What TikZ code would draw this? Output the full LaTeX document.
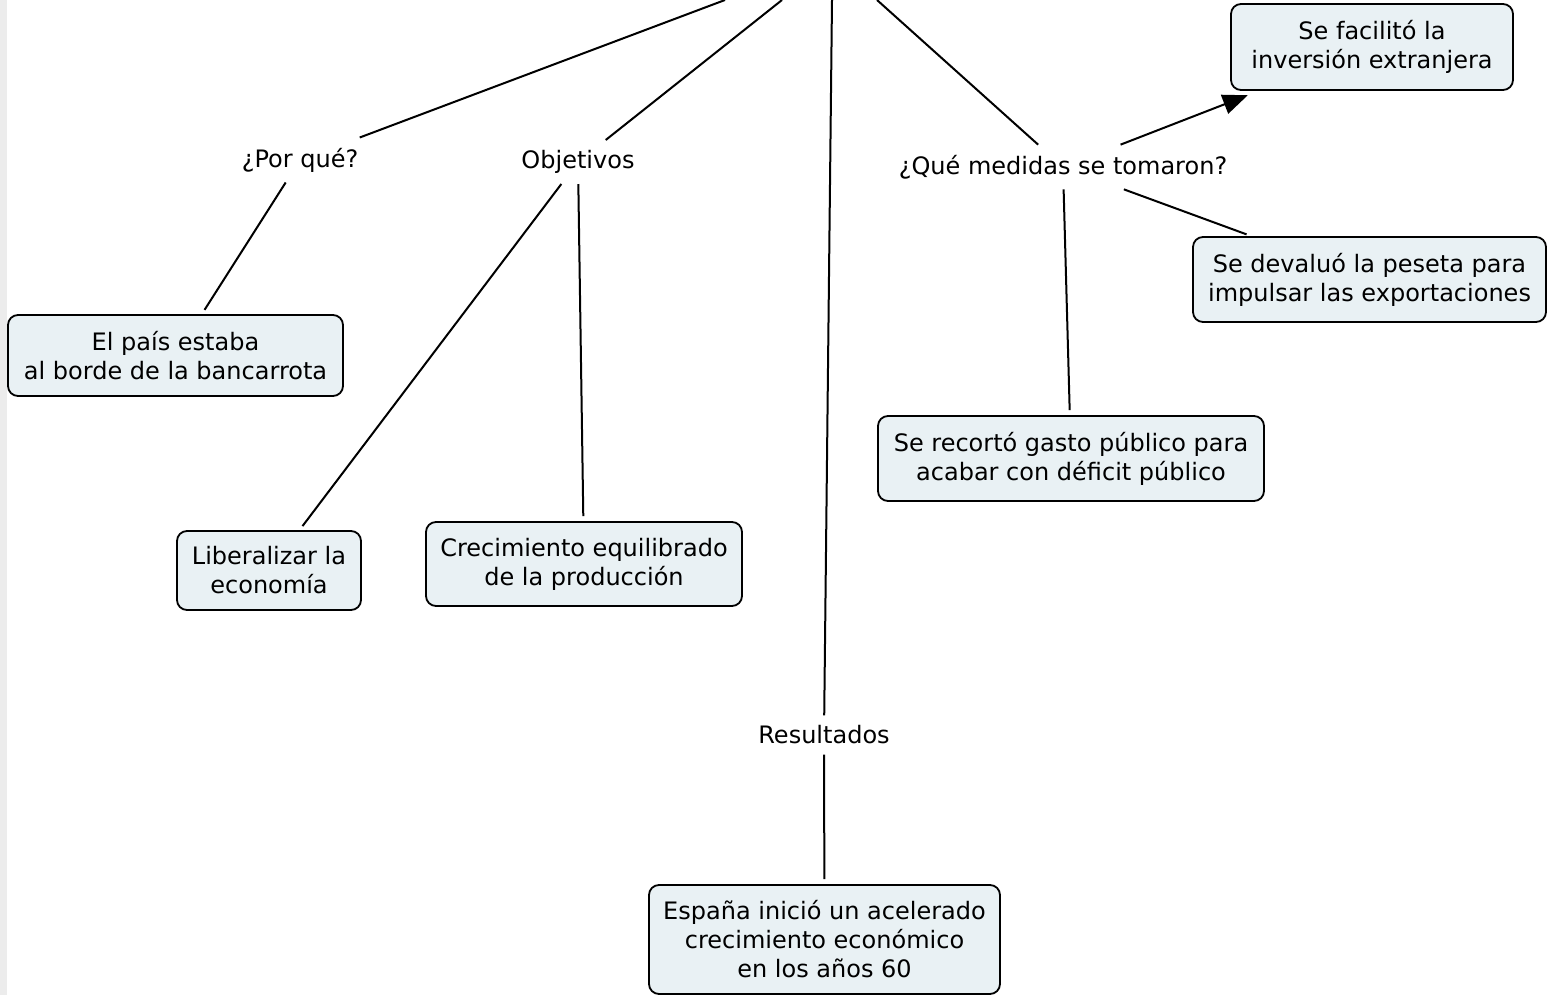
\documentclass[tikz,border=0pt]{standalone}
\usepackage{fontspec}
\setmainfont{DejaVu Sans}
\usetikzlibrary{arrows.meta}
\definecolor{boxfill}{RGB}{233,241,244}
\definecolor{stripgray}{RGB}{236,236,236}
\tikzset{
  cbox/.style={draw=black, line width=0.9pt, fill=boxfill, rounded corners=5pt, align=center, inner sep=0pt, font=\fontsize{12}{14.5}\selectfont},
  lbl/.style={align=center, inner xsep=3pt, inner ysep=5pt, font=\fontsize{12}{14.5}\selectfont},
  conn/.style={line width=1pt, draw=black},
  tobox/.style={conn, shorten >=2.5pt},
}
\begin{document}
\begin{tikzpicture}[x=0.5pt, y=-0.5pt]
\useasboundingbox (0,0) rectangle (1547,995);
\fill[white] (0,0) rectangle (1547,995);
\fill[stripgray] (0,0) rectangle (7,995);

% free top ends of connectors from the concept above the picture
\coordinate (t1) at (725,0);
\coordinate (t2) at (782,0);
\coordinate (t3) at (832,0);
\coordinate (t4) at (877,0);

% linking phrases
\node[lbl] (porque) at (300,160) {¿Por qué?};
\node[lbl] (objet) at (578,162) {Objetivos};
\node[lbl] (result) at (824,735) {Resultados};
\node[lbl] (medidas) at (1063,167) {¿Qué medidas se tomaron?};

% concept boxes
\node[cbox, minimum width=335*0.5pt, minimum height=81*0.5pt] (pais) at (175.5,355.5) {El país estaba\\al borde de la bancarrota};
\node[cbox, minimum width=184*0.5pt, minimum height=79*0.5pt] (liberal) at (269,570.5) {Liberalizar la\\economía};
\node[cbox, minimum width=316*0.5pt, minimum height=84*0.5pt] (crec) at (584,564) {Crecimiento equilibrado\\de la producción};
\node[cbox, minimum width=282*0.5pt, minimum height=86*0.5pt] (facil) at (1372,47) {Se facilitó la\\inversión extranjera};
\node[cbox, minimum width=353*0.5pt, minimum height=85*0.5pt] (deval) at (1369.5,279.5) {Se devaluó la peseta para\\impulsar las exportaciones};
\node[cbox, minimum width=386*0.5pt, minimum height=85*0.5pt] (recorto) at (1071,458.5) {Se recortó gasto público para\\acabar con déficit público};
\node[cbox, minimum width=351*0.5pt, minimum height=109*0.5pt] (espana) at (824.5,939.5) {España inició un acelerado\\crecimiento económico\\en los años 60};

% connectors
\draw[conn] (t1) -- (porque);
\draw[conn] (t2) -- (objet);
\draw[conn] (t3) -- (result);
\draw[conn] (t4) -- (medidas);

\draw[tobox] (porque) -- (pais);
\draw[tobox] (objet) -- (liberal);
\draw[tobox] (objet) -- (crec);
\draw[tobox] (result) -- (espana);
\draw[tobox] (medidas) -- (recorto);
\draw[tobox] (medidas) -- (deval);
\draw[conn, shorten >=6pt, -{Triangle[length=12.5pt, width=10pt]}] (medidas) -- (facil);
\end{tikzpicture}
\end{document}
